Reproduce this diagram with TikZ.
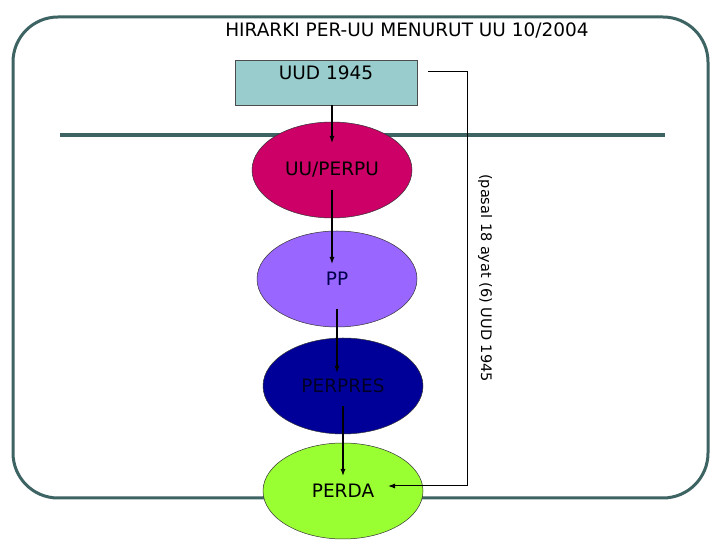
\documentclass[tikz,border=0pt]{standalone}
\usepackage{fontspec}
\setmainfont{DejaVu Sans}
\usetikzlibrary{shapes.geometric, arrows.meta}
\definecolor{framegreen}{RGB}{61,99,99}
\definecolor{uudfill}{RGB}{153,204,204}
\definecolor{uufill}{RGB}{204,0,102}
\definecolor{ppfill}{RGB}{153,102,255}
\definecolor{perpresfill}{RGB}{0,0,153}
\definecolor{perdafill}{RGB}{153,255,51}

\begin{document}
\begin{tikzpicture}[x=1pt, y=1pt,
    level/.style = {ellipse, draw=black!80, line width=0.5pt, minimum width=160pt,
        minimum height=96pt, inner sep=0pt, font=\fontsize{18.5}{22}\selectfont},
    arr/.style = {-{Latex[length=7pt,width=5pt]}, line width=1.2pt}]
    \useasboundingbox (0,0) rectangle (720,540);
    \draw[framegreen, line width=3pt, rounded corners=45pt] (13,42) rectangle (708,523);
    \draw[framegreen, line width=4pt] (60,405) -- (665,405);
    \node[font=\fontsize{18.5}{22}\selectfont] (title) at (407,509) {HIRARKI PER-UU MENURUT UU 10/2004};
    \node[draw=black!70, fill=uudfill, minimum width=182pt, minimum height=45pt, inner sep=0pt,
        label={[anchor=north, yshift=-2pt, font=\fontsize{18.5}{22}\selectfont]north:UUD 1945}] (uud) at (326,457.5) {};
    \node[level, fill=uufill] (uu) at (332,370) {UU/PERPU};
    \node[level, fill=ppfill, text=black!70!blue] (pp) at (337,261) {PP};
    \node[level, fill=perpresfill, text=black!85!blue] (perpres) at (343,154) {PERPRES};
    \node[level, fill=perdafill] (perda) at (343,49) {PERDA};
    \node[rotate=-90, font=\fontsize{14.5}{17}\selectfont] (pasal) at (485,262) {(pasal 18 ayat (6) UUD 1945};
    \coordinate (rail) at (467,0);
    \coordinate (fromuud) at ([xshift=11pt, yshift=11pt]uud.east);
    \coordinate (toperda) at ([xshift=45pt, yshift=5pt]perda.center);
    \draw[arr, shorten >=27pt] (uud.south -| uu) -- (uu.center);
    \draw[arr, shorten <=20pt, shorten >=15pt] (uu.center) -- (uu.center |- pp.center);
    \draw[arr, shorten <=30pt, shorten >=13pt] (pp.center) -- (pp.center |- perpres.center);
    \draw[arr, shorten <=20pt, shorten >=15pt] (perpres.center) -- (perpres.center |- perda.center);
    \draw[arr, line width=1pt] (fromuud) -| (rail |- toperda) -- (toperda);
\end{tikzpicture}
\end{document}
